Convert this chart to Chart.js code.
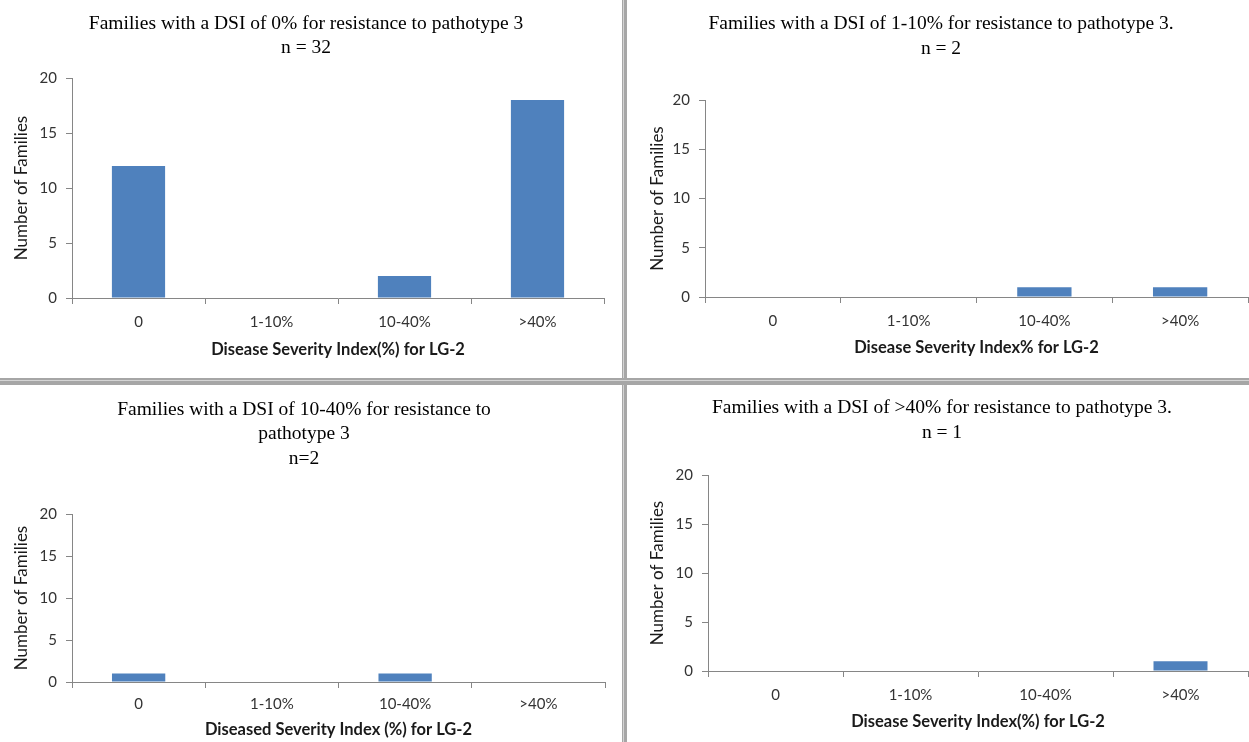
<!DOCTYPE html>
<html>
<head>
<meta charset="utf-8">
<script src="https://cdn.jsdelivr.net/npm/chart.js@4.4.1/dist/chart.umd.min.js"></script>
<style>
  html, body { margin: 0; padding: 0; background: #ffffff; }
  body { width: 1249px; height: 742px; position: relative; overflow: hidden; }
  canvas { position: absolute; }
  .vdiv { position: absolute; left: 622px; top: 0; width: 1px; height: 742px; background: #a6a6a6;
          border-right: 1px solid #d4d4d4; box-shadow: 2px 0 0 #a6a6a6, 3px 0 0 #a6a6a6; z-index: 5; }
  .hdiv { position: absolute; left: 0; top: 378px; width: 1249px; height: 2px; background: #a6a6a6;
          border-bottom: 1px solid #d4d4d4; box-shadow: 0 3px 0 #a6a6a6, 0 4px 0 #a6a6a6; z-index: 5; }
</style>
</head>
<body>
<canvas id="c1" width="622" height="378" style="left:0px;top:0px;width:622px;height:378px"></canvas>
<canvas id="c2" width="623" height="378" style="left:626px;top:0px;width:623px;height:378px"></canvas>
<canvas id="c3" width="622" height="358" style="left:0px;top:384px;width:622px;height:358px"></canvas>
<canvas id="c4" width="623" height="358" style="left:626px;top:384px;width:623px;height:358px"></canvas>
<div class="vdiv"></div>
<div class="hdiv"></div>
<script>
// ---- data ----
const categories = ['0', '1-10%', '10-40%', '>40%'];
const familiesDSI0 = [12, 0, 2, 18];
const familiesDSI1to10 = [0, 0, 1, 1];
const familiesDSI10to40 = [1, 0, 1, 0];
const familiesDSIover40 = [0, 0, 0, 1];
const yMin = 0, yMax = 20, yStep = 5;

const titleDSI0 = ['Families with a DSI of 0% for resistance to pathotype 3', 'n = 32'];
const titleDSI1to10 = ['Families with a DSI of 1-10% for resistance to pathotype 3.', 'n = 2'];
const titleDSI10to40 = ['Families with a DSI of 10-40% for resistance to', 'pathotype 3', 'n=2'];
const titleDSIover40 = ['Families with a DSI of >40% for resistance to pathotype 3.', 'n = 1'];

const xTitleDSI0 = 'Disease Severity Index(%) for LG-2';
const xTitleDSI1to10 = 'Disease Severity Index% for LG-2';
const xTitleDSI10to40 = 'Diseased Severity Index (%) for LG-2';
const xTitleDSIover40 = 'Disease Severity Index(%) for LG-2';
const yTitleText = 'Number of Families';

// ---- styling ----
const BAR = '#4F81BD';
const AXIS = '#868686';
const TICKTXT = '#333333';
const SANS = 'Lato, "Open Sans", sans-serif';
const SERIF = '"Liberation Serif", "Times New Roman", serif';

function makeChart(id, values, titleLines, xTitle, g) {
  return new Chart(document.getElementById(id), {
    type: 'bar',
    data: {
      labels: categories,
      datasets: [{
        data: values,
        backgroundColor: BAR,
        borderWidth: 0,
        barPercentage: 0.4,
        categoryPercentage: 1.0
      }]
    },
    options: {
      responsive: false,
      animation: false,
      devicePixelRatio: 1,
      layout: { padding: { left: g.padL, right: g.padR, top: 0, bottom: 0 } },
      plugins: {
        legend: { display: false },
        tooltip: { enabled: false },
        title: {
          display: true,
          text: titleLines,
          color: '#000000',
          font: { family: SERIF, size: 19.5, weight: 'normal', lineHeight: '24.5px' },
          padding: { top: g.tTop, bottom: g.tBottom }
        }
      },
      scales: {
        x: {
          grid: { display: true, drawOnChartArea: false, drawTicks: true, tickLength: 6, tickColor: AXIS, offset: true },
          border: { display: true, color: AXIS, width: 1 },
          ticks: { color: TICKTXT, font: { family: SANS, size: 15 }, padding: g.xTickPad, maxRotation: 0 },
          title: {
            display: true, text: xTitle, color: '#1a1a1a',
            font: { family: SANS, size: 16.5, weight: 'bold', lineHeight: 1.2 },
            padding: { top: 0, bottom: g.xTitlePad }
          },
          afterFit: (s) => { s.height = g.xH; }
        },
        y: {
          min: yMin, max: yMax,
          grid: { display: true, drawOnChartArea: false, drawTicks: true, tickLength: 6, tickColor: AXIS },
          border: { display: true, color: AXIS, width: 1 },
          ticks: { stepSize: yStep, color: TICKTXT, font: { family: SANS, size: 15 }, padding: 9 },
          title: {
            display: true, text: yTitleText, color: '#1a1a1a',
            font: { family: SANS, size: 17, weight: 'normal', lineHeight: 1.2 },
            padding: { top: g.yTitlePad, bottom: 0 }
          },
          afterFit: (s) => { s.width = g.yW; }
        }
      }
    }
  });
}

makeChart('c1', familiesDSI0, titleDSI0, xTitleDSI0,
  { padL: 8, padR: 18, yW: 64, xH: 80, tTop: 11.25, tBottom: 17.75, xTickPad: 9, xTitlePad: 18.1, yTitlePad: 3.8 });
makeChart('c2', familiesDSI1to10, titleDSI1to10, xTitleDSI1to10,
  { padL: 8, padR: 1, yW: 71, xH: 81, tTop: 11.75, tBottom: 39.25, xTickPad: 9, xTitlePad: 20.6, yTitlePad: 13.8 });
makeChart('c3', familiesDSI10to40, titleDSI10to40, xTitleDSI10to40,
  { padL: 3, padR: 17, yW: 69, xH: 60, tTop: 13.25, tBottom: 43.25, xTickPad: 7, xTitlePad: 2.1, yTitlePad: 8.8 });
makeChart('c4', familiesDSIover40, titleDSIover40, xTitleDSIover40,
  { padL: 10, padR: 1, yW: 72, xH: 71, tTop: 11.75, tBottom: 30.25, xTickPad: 9, xTitlePad: 10.1, yTitlePad: 11.8 });
</script>
</body>
</html>
